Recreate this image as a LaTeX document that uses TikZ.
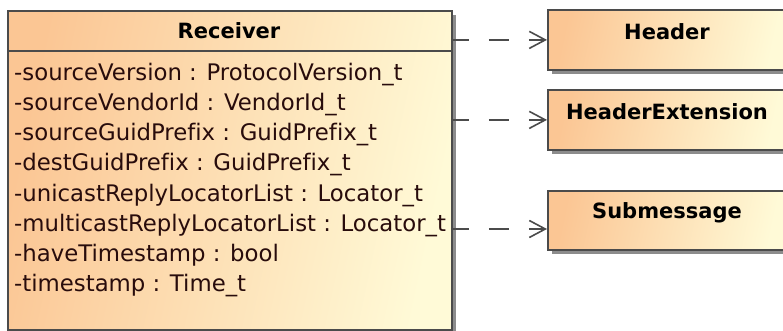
\documentclass[tikz,border=0pt]{standalone}
\usepackage{fontspec}
\setmainfont{DejaVu Sans}[Ligatures=NoCommon]
\usetikzlibrary{arrows.meta,shadows}
\definecolor{umlA}{RGB}{251,198,148}
\definecolor{umlB}{RGB}{255,250,215}
\definecolor{umlLine}{RGB}{75,75,75}
\definecolor{umlText}{RGB}{40,12,12}
\begin{document}
\begin{tikzpicture}[x=1pt,y=-1pt,
  classbox/.style={draw=umlLine, line width=1.8pt, top color=umlA, bottom color=umlB,
    shading angle=78, rectangle, inner sep=0pt, anchor=north west,
    drop shadow={shadow xshift=4pt, shadow yshift=-4pt, fill=black!45, opacity=1}},
  attr/.style={anchor=base west, inner sep=0pt, text=umlText, font=\fontsize{22.8}{27}\selectfont},
  title/.style={inner sep=0pt, text=black, font=\fontsize{21}{25}\selectfont\bfseries},
  dep/.style={draw=umlLine, line width=1.6pt, dash pattern=on 20pt off 20pt, dash phase=4pt,
    -{Straight Barb[length=16pt,width=17pt,line width=1.6pt]}}]
\useasboundingbox (0,0) rectangle (783,331);
\clip (0,0) rectangle (783,331);
% Receiver class
\node[classbox, minimum width=444pt, minimum height=319pt] (recv) at (7,10) {};
\draw[umlLine, line width=1.6pt] (recv.west |- 0,51) -- (recv.east |- 0,51);
\node[title] (rtitle) at (229,31) {Receiver};
\foreach \t [count=\i] in {%
  -sourceVersion : ProtocolVersion\_t,
  -sourceVendorId : VendorId\_t,
  -sourceGuidPrefix : GuidPrefix\_t,
  -destGuidPrefix : GuidPrefix\_t,
  -unicastReplyLocatorList : Locator\_t,
  -multicastReplyLocatorList : Locator\_t,
  -haveTimestamp : bool,
  -timestamp : Time\_t}
  \node[attr] (a\i) at (14,51+30*\i) {\t};
% other classes
\node[classbox, minimum width=240pt, minimum height=60pt] (hdr) at (547,9) {};
\node[title] (thdr) at (667,32) {Header};
\node[classbox, minimum width=240pt, minimum height=60pt] (hext) at (547,89) {};
\node[title] (thext) at (667,112) {HeaderExtension};
\node[classbox, minimum width=240pt, minimum height=59pt] (sub) at (547,190) {};
\node[title] (tsub) at (667,213) {Submessage};
% dependencies
\coordinate (s3) at (547,229);
\draw[dep] (recv.east |- hdr.west) -- (hdr.west);
\draw[dep] (recv.east |- hext.west) -- (hext.west);
\draw[dep] (recv.east |- s3) -- (s3);
\end{tikzpicture}
\end{document}
